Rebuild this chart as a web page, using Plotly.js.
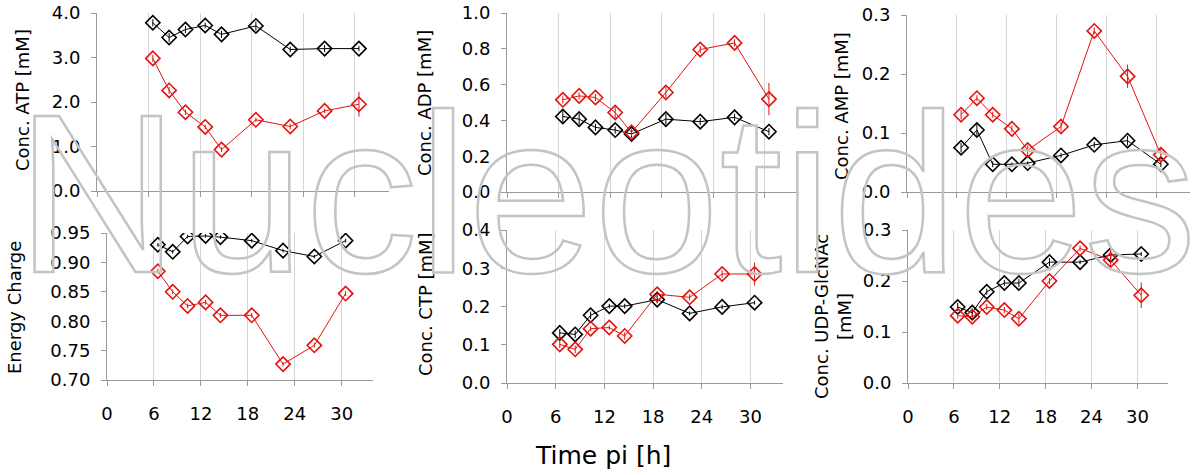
<!DOCTYPE html>
<html>
<head>
<meta charset="utf-8">
<script src="https://cdn.plot.ly/plotly-3.0.1.min.js"></script>
<style>
html, body { margin: 0; padding: 0; background: #ffffff; }
#chart { width: 1200px; height: 475px; }
</style>
</head>
<body>
<div id="chart"></div>
<script>
// ---- data ----
const timeH = [6.5, 8.4, 10.3, 12.6, 14.5, 18.5, 22.5, 26.5, 30.5];

const atpBlack = [3.78, 3.45, 3.63, 3.72, 3.52, 3.71, 3.18, 3.20, 3.20];
const atpBlackErr = [0.08, 0.10, 0.08, 0.06, 0.08, 0.10, 0.06, 0.08, 0.06];
const atpRed = [2.98, 2.26, 1.77, 1.44, 0.93, 1.60, 1.45, 1.80, 1.95];
const atpRedErr = [0.08, 0.08, 0.06, 0.05, 0.05, 0.05, 0.06, 0.05, 0.28];

const adpBlack = [0.422, 0.407, 0.361, 0.346, 0.324, 0.407, 0.393, 0.417, 0.337];
const adpBlackErr = [0.03, 0.03, 0.02, 0.02, 0.02, 0.03, 0.02, 0.02, 0.02];
const adpRed = [0.515, 0.537, 0.528, 0.444, 0.333, 0.556, 0.796, 0.833, 0.519];
const adpRedErr = [0.02, 0.02, 0.02, 0.03, 0.02, 0.03, 0.02, 0.02, 0.09];

const ampBlack = [0.075, 0.105, 0.047, 0.047, 0.049, 0.062, 0.080, 0.087, 0.047];
const ampBlackErr = [0.008, 0.010, 0.005, 0.003, 0.003, 0.004, 0.005, 0.008, 0.005];
const ampRed = [0.131, 0.159, 0.131, 0.107, 0.071, 0.111, 0.273, 0.196, 0.063];
const ampRedErr = [0.008, 0.005, 0.005, 0.006, 0.008, 0.008, 0.006, 0.020, 0.010];

const ecBlack = [0.930, 0.918, 0.944, 0.945, 0.943, 0.937, 0.920, 0.910, 0.937];
const ecBlackErr = [0.003, 0.003, 0.003, 0.003, 0.003, 0.003, 0.003, 0.003, 0.003];
const ecRed = [0.885, 0.850, 0.826, 0.832, 0.810, 0.810, 0.727, 0.759, 0.847];
const ecRedErr = [0.004, 0.004, 0.004, 0.004, 0.004, 0.004, 0.004, 0.004, 0.004];

const ctpBlack = [0.131, 0.127, 0.177, 0.201, 0.201, 0.218, 0.182, 0.199, 0.210];
const ctpBlackErr = [0.010, 0.010, 0.010, 0.006, 0.006, 0.010, 0.005, 0.006, 0.005];
const ctpRed = [0.101, 0.088, 0.142, 0.145, 0.123, 0.232, 0.224, 0.285, 0.285];
const ctpRedErr = [0.010, 0.010, 0.006, 0.006, 0.010, 0.008, 0.008, 0.010, 0.030];

const udpBlack = [0.149, 0.138, 0.179, 0.196, 0.196, 0.237, 0.237, 0.251, 0.253];
const udpBlackErr = [0.008, 0.008, 0.006, 0.006, 0.008, 0.008, 0.004, 0.008, 0.004];
const udpRed = [0.132, 0.130, 0.149, 0.143, 0.126, 0.200, 0.264, 0.241, 0.172];
const udpRedErr = [0.006, 0.006, 0.006, 0.006, 0.010, 0.006, 0.006, 0.020, 0.025];

const xTicks = [0, 6, 12, 18, 24, 30];
const yTitles = ['Conc. ATP [mM]', 'Conc. ADP [mM]', 'Conc. AMP [mM]',
                 'Energy Charge', 'Conc. CTP [mM]', 'Conc. UDP-GlcNAc<br>[mM]'];
const xTitle = 'Time pi [h]';
const watermark = 'Nucleotides';

// ---- styling ----
const RED = '#e3130f';
const BLACK = '#000000';
const W = 1200, H = 475;
const FONT = 'DejaVu Sans, Arial, sans-serif';

function series(x, y, err, color, ax) {
  return {
    x: x, y: y, type: 'scatter', mode: 'lines+markers',
    xaxis: 'x' + ax, yaxis: 'y' + ax,
    line: { color: color, width: 1 },
    marker: { symbol: 'diamond-open', size: 11, color: color, line: { color: color, width: 1.6 } },
    error_y: { type: 'data', array: err, visible: true, color: color, thickness: 1, width: 0 },
    showlegend: false, hoverinfo: 'x+y'
  };
}

const data = [
  series(timeH, atpBlack, atpBlackErr, BLACK, ''),
  series(timeH, atpRed, atpRedErr, RED, ''),
  series(timeH, adpBlack, adpBlackErr, BLACK, '2'),
  series(timeH, adpRed, adpRedErr, RED, '2'),
  series(timeH, ampBlack, ampBlackErr, BLACK, '3'),
  series(timeH, ampRed, ampRedErr, RED, '3'),
  series(timeH, ecBlack, ecBlackErr, BLACK, '4'),
  series(timeH, ecRed, ecRedErr, RED, '4'),
  series(timeH, ctpBlack, ctpBlackErr, BLACK, '5'),
  series(timeH, ctpRed, ctpRedErr, RED, '5'),
  series(timeH, udpBlack, udpBlackErr, BLACK, '6'),
  series(timeH, udpRed, udpRedErr, RED, '6')
];

function px2x(a, b) { return [a / W, b / W]; }
function py2y(top, bottom) { return [1 - bottom / H, 1 - top / H]; }

function xAxis(dom, yname, showLabels) {
  return {
    domain: dom, anchor: yname, range: [0, 34], tickvals: xTicks,
    showgrid: true, gridcolor: '#d6d6d6', gridwidth: 1,
    zeroline: false, showline: true, linecolor: '#9a9a9a', linewidth: 1,
    ticks: 'outside', ticklen: 5, tickcolor: '#9a9a9a',
    showticklabels: showLabels, ticklabelstandoff: 12,
    tickfont: { family: FONT, size: 18, color: '#000' },
    fixedrange: true
  };
}
function yAxis(dom, xname, range, dtick, fmt) {
  return {
    domain: dom, anchor: xname, range: range, dtick: dtick, tick0: 0, tickformat: fmt,
    showgrid: false, zeroline: false, showline: true, linecolor: '#9a9a9a', linewidth: 1,
    ticks: 'outside', ticklen: 5, tickcolor: '#9a9a9a', ticklabelstandoff: 7,
    tickfont: { family: FONT, size: 18, color: '#000' },
    fixedrange: true
  };
}

// y-title placement (pixel centres) for each panel
const yTitlePos = [[22, 100], [424, 103], [841, 106], [14, 308], [425, 304], [833, 317]];

const annotations = yTitles.map(function (t, i) {
  return {
    text: t, xref: 'paper', yref: 'paper', textangle: -90,
    x: yTitlePos[i][0] / W, y: 1 - yTitlePos[i][1] / H,
    xanchor: 'center', yanchor: 'middle', showarrow: false,
    font: { family: FONT, size: 18, color: '#000' }
  };
});
annotations.push({
  text: xTitle, xref: 'paper', yref: 'paper',
  x: 603 / W, y: 1 - 455 / H, xanchor: 'center', yanchor: 'middle',
  showarrow: false, font: { family: FONT, size: 25, color: '#000' }
});
annotations.push({
  text: watermark, xref: 'paper', yref: 'paper',
  x: 14 / W, y: 1 - 193.5 / H, xanchor: 'left', yanchor: 'middle',
  showarrow: false, font: { family: 'Liberation Sans, Arial, sans-serif', size: 226, color: 'rgba(0,0,0,0)' }
});

const layout = {
  width: W, height: H,
  margin: { l: 0, r: 0, t: 0, b: 0 },
  paper_bgcolor: '#ffffff', plot_bgcolor: 'rgba(0,0,0,0)',
  showlegend: false,
  font: { family: FONT, color: '#000' },
  xaxis:  xAxis(px2x(97, 389), 'y', false),
  xaxis2: xAxis(px2x(507, 799), 'y2', false),
  xaxis3: xAxis(px2x(907, 1190), 'y3', false),
  xaxis4: xAxis(px2x(107, 373), 'y4', true),
  xaxis5: xAxis(px2x(507, 783), 'y5', true),
  xaxis6: xAxis(px2x(908, 1168), 'y6', true),
  yaxis:  yAxis(py2y(13, 191), 'x',  [0, 4],     1,    '.1f'),
  yaxis2: yAxis(py2y(13, 192), 'x2', [0, 1],     0.2,  '.1f'),
  yaxis3: yAxis(py2y(15, 192), 'x3', [0, 0.3],   0.1,  '.1f'),
  yaxis4: yAxis(py2y(233, 380), 'x4', [0.70, 0.95], 0.05, '.2f'),
  yaxis5: yAxis(py2y(230, 383), 'x5', [0, 0.4],  0.1,  '.1f'),
  yaxis6: yAxis(py2y(230, 383), 'x6', [0, 0.3],  0.1,  '.1f'),
  annotations: annotations
};

Plotly.newPlot('chart', data, layout, { staticPlot: true, displayModeBar: false }).then(function (gd) {
  gd.querySelectorAll('.annotation-text').forEach(function (t) {
    if (t.textContent === watermark) {
      t.style.fill = 'none';
      t.style.stroke = '#c4c4c4';
      t.style.strokeWidth = '2.5px';
    }
  });
});
</script>
</body>
</html>
